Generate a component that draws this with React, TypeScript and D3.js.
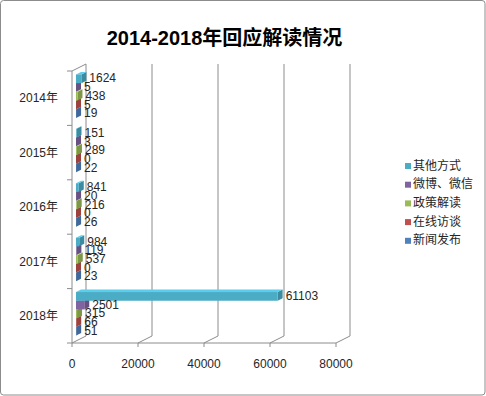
import React from "react";
import * as d3 from "d3";

const categories = ["2014年", "2015年", "2016年", "2017年", "2018年"];
const seriesNames = ["其他方式", "微博、微信", "政策解读", "在线访谈", "新闻发布"];
const seriesColors = ["#4BACC6", "#8064A2", "#9BBB59", "#C0504D", "#4F81BD"];
const otherWays = [1624, 151, 841, 984, 61103];
const weiboWeixin = [5, 3, 20, 119, 2501];
const policyReading = [438, 289, 216, 537, 315];
const onlineInterview = [5, 0, 0, 0, 66];
const pressRelease = [19, 22, 26, 23, 51];
const seriesValues = [otherWays, weiboWeixin, policyReading, onlineInterview, pressRelease];
const xTicks = [0, 20000, 40000, 60000, 80000];

const W = 486, H = 396;
const FONT = "'Liberation Sans', Arial, 'Noto Sans CJK SC', sans-serif";

export default function App() {
  const x = d3.scaleLinear().domain([0, 80000]).range([72, 336]);
  const y = d3.scaleBand<string>().domain(categories).range([71, 343]).paddingInner(0).paddingOuter(0);
  const wallDx = 14, wallDy = -7;
  const barOffX = 4, barOffY = -2;
  const bDx = 5, bDy = -2.5;
  const band = y.bandwidth();
  const pad = band * 0.1;
  const h = (band - 2 * pad) / seriesNames.length;
  const yTop = 71, yBot = 343;

  const bars: React.ReactNode[] = [];
  const labels: React.ReactNode[] = [];
  categories.forEach((c, ci) => {
    for (let si = seriesNames.length - 1; si >= 0; si--) {
      const v = seriesValues[si][ci];
      const base = seriesColors[si];
      const light = d3.color(base)!.brighter(0.5).formatHex();
      const dark = d3.color(base)!.darker(0.6).formatHex();
      const x0 = x(0) + barOffX;
      const x1 = x(v) + barOffX;
      const t = (y(c) as number) + pad + si * h + barOffY;
      const b = t + h;
      bars.push(
        <g key={`b${ci}-${si}`}>
          <polygon points={`${x1},${t} ${x1 + bDx},${t + bDy} ${x1 + bDx},${b + bDy} ${x1},${b}`} fill={dark} />
          <polygon points={`${x0},${t} ${x1},${t} ${x1 + bDx},${t + bDy} ${x0 + bDx},${t + bDy}`} fill={light} />
          <rect x={x0} y={t} width={Math.max(0, x1 - x0)} height={h} fill={base} />
        </g>
      );
      labels.push(
        <text key={`l${ci}-${si}`} x={x1 + bDx + 3} y={t + h / 2 + 0.5} dominantBaseline="middle"
          fontSize={12} fill="#262626" fontFamily={FONT}>{v}</text>
      );
    }
  });

  return (
    <svg width={W} height={H} style={{ position: "absolute", left: 0, top: 0 }}>
      <rect x={0.5} y={0.5} width={W - 1.5} height={H - 1.5} rx={3} fill="#fff" stroke="#8c8c8c" />
      <text x={224.5} y={40} textAnchor="middle" dominantBaseline="middle" fontSize={20} fontWeight="bold"
        fontFamily={FONT} fill="#000">2014-2018年回应解读情况</text>

      {xTicks.slice(1).map((t) => (
        <line key={`g${t}`} x1={x(t) + wallDx} x2={x(t) + wallDx} y1={yTop + wallDy} y2={yBot + wallDy}
          stroke="#8c8c8c" strokeWidth={1} />
      ))}
      {xTicks.map((t) => (
        <line key={`f${t}`} x1={x(t)} x2={x(t) + wallDx} y1={yBot} y2={yBot + wallDy} stroke="#8c8c8c" />
      ))}
      <line x1={72} x2={72} y1={yTop} y2={yBot} stroke="#8c8c8c" />
      <line x1={72 + wallDx} x2={72 + wallDx} y1={yTop + wallDy} y2={yBot + wallDy} stroke="#8c8c8c" />
      <line x1={72} x2={72 + wallDx} y1={yTop} y2={yTop + wallDy} stroke="#8c8c8c" />
      <line x1={x(0)} x2={x(80000)} y1={yBot} y2={yBot} stroke="#8c8c8c" />
      {xTicks.map((t) => (
        <g key={`xt${t}`}>
          <line x1={x(t)} x2={x(t)} y1={yBot} y2={yBot + 4} stroke="#8c8c8c" />
          <text x={x(t)} y={365} textAnchor="middle" dominantBaseline="middle" fontSize={12}
            fontFamily={FONT} fill="#262626">{t}</text>
        </g>
      ))}
      {[...categories.map((c) => y(c) as number), yBot].map((v, i) => (
        <line key={`ct${i}`} x1={67} x2={72} y1={v} y2={v} stroke="#8c8c8c" />
      ))}
      {categories.map((c) => (
        <text key={`cl${c}`} x={58} y={(y(c) as number) + band / 2 + 1} textAnchor="end" dominantBaseline="middle"
          fontSize={12} fontFamily={FONT} fill="#262626">{c}</text>
      ))}

      {bars}
      {labels}

      {seriesNames.map((n, i) => (
        <g key={`lg${i}`}>
          <rect x={405} y={166 + i * 18.7 - 3} width={6} height={6} fill={seriesColors[i]} />
          <text x={413} y={166 + i * 18.7 + 0.5} dominantBaseline="middle" fontSize={12}
            fontFamily={FONT} fill="#262626">{n}</text>
        </g>
      ))}
    </svg>
  );
}
